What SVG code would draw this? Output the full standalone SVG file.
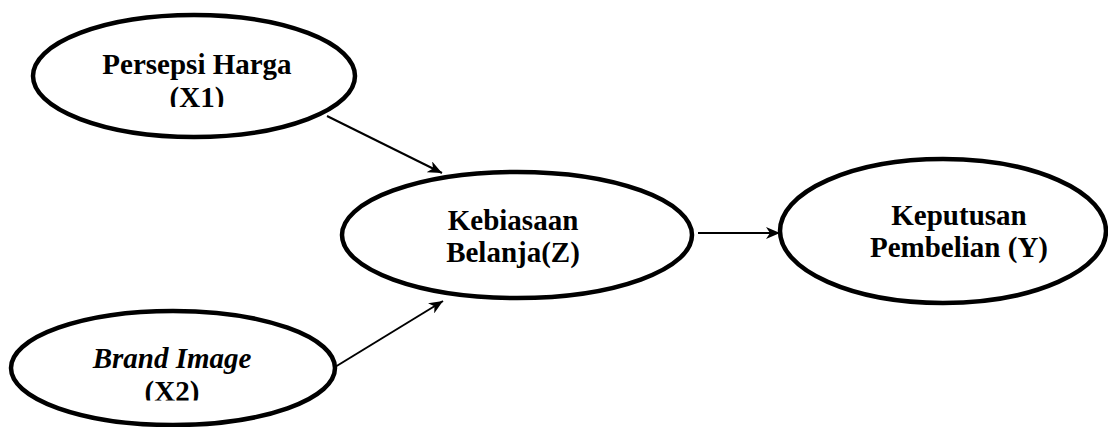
<svg xmlns="http://www.w3.org/2000/svg" width="1108" height="427" viewBox="0 0 1108 427">
<style>
.node{fill:#fff;stroke:#000;stroke-width:4.5}
.lbl{font-family:'Liberation Serif','Times New Roman','DejaVu Serif',serif;font-weight:700;font-size:29px;fill:#000;text-anchor:middle}
.it{font-style:italic}
.conn{stroke:#000;stroke-width:2;fill:none;marker-end:url(#ah)}
</style>
<defs>
<marker id="ah" markerUnits="userSpaceOnUse" markerWidth="16" markerHeight="12" refX="14" refY="6" orient="auto">
<path d="M0,0 L14,6 L0,12 L4,6 Z" fill="#000"/>
</marker>
<clipPath id="c1"><rect x="0" y="0" width="1108" height="107"/></clipPath>
<clipPath id="c2"><rect x="0" y="0" width="1108" height="400.5"/></clipPath>
</defs>
<rect width="1108" height="427" fill="#fff"/>
<g id="connectors">
<line class="conn" x1="327" y1="116" x2="442" y2="173"/>
<line class="conn" x1="335" y1="367" x2="443" y2="301"/>
<line class="conn" x1="698" y1="233" x2="780" y2="233"/>
</g>
<g id="node-x1">
<ellipse class="node" cx="194" cy="76" rx="161" ry="61"/>
<g clip-path="url(#c1)">
<text class="lbl" x="197" y="74" font-family="Liberation Serif, serif">Persepsi Harga</text>
<text class="lbl" x="197" y="107" font-family="Liberation Serif, serif">(X1)</text>
</g>
</g>
<g id="node-x2">
<ellipse class="node" cx="173" cy="368" rx="162" ry="57"/>
<g clip-path="url(#c2)">
<text class="lbl it" x="172" y="368" font-family="Liberation Serif, serif">Brand Image</text>
<text class="lbl" x="172" y="401" font-family="Liberation Serif, serif">(X2)</text>
</g>
</g>
<g id="node-z">
<ellipse class="node" cx="517" cy="235" rx="175" ry="63"/>
<text class="lbl" x="513" y="230" font-family="Liberation Serif, serif">Kebiasaan</text>
<text class="lbl" x="513" y="262" font-family="Liberation Serif, serif">Belanja(Z)</text>
</g>
<g id="node-y">
<ellipse class="node" cx="943" cy="231" rx="163" ry="72"/>
<text class="lbl" x="959" y="225" font-family="Liberation Serif, serif">Keputusan</text>
<text class="lbl" x="959" y="257" font-family="Liberation Serif, serif">Pembelian (Y)</text>
</g>
</svg>
